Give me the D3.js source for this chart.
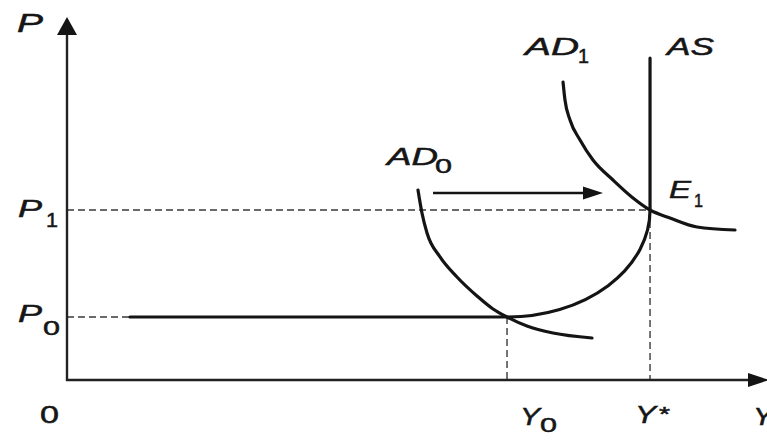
<!DOCTYPE html>
<html><head><meta charset="utf-8">
<script src="https://cdn.jsdelivr.net/npm/d3@7"></script>
<style>body{margin:0;background:#fff}svg{display:block}text{font-family:"Liberation Sans",Arial,sans-serif;fill:#161616}</style>
</head><body><svg id="c" width="767" height="440"></svg>
<script>
// Abstract units: x 0..100 (output Y), y 0..100 (price level P)
const levels = { Y0: 62.86, Ystar: 83.29, P0: 17.5, P1: 47.22 };
const asFlat = [[9.0,17.5],[62.86,17.5]];
const asTop = 89.4;
const ad0 = [[50.14,52.78],[50.71,46.39],[51.43,40.83],[53.29,34.17],[55.71,28.61],[58.57,23.33],[60.86,19.72],[62.86,17.5],[65.71,15],[69.43,13.06],[75,11.67]];
const ad1 = [[70.86,82.78],[71.14,77.78],[71.86,72.22],[73.29,66.67],[75.14,61.11],[78,55.56],[80.86,50.56],[83.29,47.22],[86.14,45],[90,42.5],[95.43,41.67]];
const shiftArrow = [[52.29,51.94],[76.57,51.94]];
const yTickLabels = [{k:"P",s:"1",v:levels.P1},{k:"P",s:"0",v:levels.P0}];
const xTickLabels = [{k:"Y",s:"0",v:levels.Y0},{k:"Y",s:"*",v:levels.Ystar}];

const svg = d3.select("#c");
const x = d3.scaleLinear().domain([0,100]).range([67,767]);
const y = d3.scaleLinear().domain([0,100]).range([380,20]);
const ink = "#141414";

// dashed guides
const dash = svg.append("g").attr("stroke","#3a3a3a").attr("stroke-width",1.4).attr("stroke-dasharray","7,4").attr("fill","none");
dash.append("line").attr("x1",x(0)).attr("x2",x(levels.Ystar)).attr("y1",y(levels.P1)).attr("y2",y(levels.P1));
dash.append("line").attr("x1",x(0)).attr("x2",x(asFlat[0][0])).attr("y1",y(levels.P0)).attr("y2",y(levels.P0));
dash.append("line").attr("x1",x(levels.Y0)).attr("x2",x(levels.Y0)).attr("y1",y(levels.P0)).attr("y2",y(0));
dash.append("line").attr("x1",x(levels.Ystar)).attr("x2",x(levels.Ystar)).attr("y1",y(levels.P1)).attr("y2",y(0));

// axes
const ax = svg.append("g").attr("stroke","#222").attr("stroke-width",2.4);
ax.append("line").attr("x1",x(0)).attr("x2",x(0)).attr("y1",y(0)+1).attr("y2",y(100)+10);
ax.append("line").attr("x1",x(0)-1).attr("x2",x(100)-12).attr("y1",y(0)).attr("y2",y(0));
svg.append("path").attr("fill",ink)
  .attr("d",`M${x(0)},${y(100)-3} L${x(0)-10},${y(100)+15} L${x(0)+10},${y(100)+15} Z`);
svg.append("path").attr("fill",ink)
  .attr("d",`M${x(100)+2},${y(0)} L${x(100)-19},${y(0)-7} L${x(100)-19},${y(0)+7} Z`);

// curves
const mono = d3.line().x(d=>x(d[0])).y(d=>y(d[1])).curve(d3.curveMonotoneX);
const cg = svg.append("g").attr("fill","none").attr("stroke",ink).attr("stroke-width",3.2).attr("stroke-linecap","round");
// AS: flat segment, quarter-elliptic bend up to (Y*,P1), then vertical
const rx = x(levels.Ystar)-x(levels.Y0), ry = y(levels.P0)-y(levels.P1);
cg.append("path").attr("d",
  `M${x(asFlat[0][0])},${y(asFlat[0][1])} L${x(asFlat[1][0])},${y(asFlat[1][1])}` +
  ` A${rx},${ry} 0 0 0 ${x(levels.Ystar)},${y(levels.P1)} L${x(levels.Ystar)},${y(asTop)}`);
cg.append("path").attr("d",mono(ad0));
cg.append("path").attr("d",mono(ad1));

// shift arrow
const ax1 = x(shiftArrow[0][0]), ax2 = x(shiftArrow[1][0]), ay = y(shiftArrow[0][1]);
svg.append("line").attr("x1",ax1).attr("x2",ax2-14).attr("y1",ay).attr("y2",ay).attr("stroke",ink).attr("stroke-width",2.4);
svg.append("path").attr("fill",ink).attr("d",`M${ax2},${ay} L${ax2-20},${ay-6.5} L${ax2-20},${ay+6.5} Z`);

// labels
function txt(px, py, s, size, len, italic){
  const t = svg.append("text").attr("x",px).attr("y",py).attr("font-size",size)
    .attr("font-style",italic?"italic":"normal").attr("stroke","#161616").attr("stroke-width",0.5).text(s);
  if(len) t.attr("textLength",len).attr("lengthAdjust","spacingAndGlyphs");
  return t;
}
const X0 = x(0), Yb = y(0);
txt(X0-50, y(100)+12, "P", 25, 26, true);
yTickLabels.forEach(d=>{
  const base = y(d.v) + (d.s==="1" ? 7 : 5);
  txt(X0-49, base, d.k, 24, 24, true);
  txt(X0-(d.s==="1"?21:24), base+(d.s==="1"?10:13), d.s, 21, d.s==="1"?12:17, false);
});
txt(X0-27, Yb+43, "0", 24, 19, false);
xTickLabels.forEach(d=>{
  if(d.s==="*"){
    txt(x(d.v)-15, Yb+43, d.k, 24, 21, true);
    txt(x(d.v)+9, Yb+41, "*", 20, 11, false);
  } else {
    txt(x(d.v)+13, Yb+45, d.k, 24, 20, true);
    txt(x(d.v)+33, Yb+52, d.s, 21, 17, false);
  }
});
txt(x(100)-14, Yb+45, "Y", 24, 20, true);
txt(x(ad1[0][0])-38, y(100)+35, "AD", 24, 54, true);
txt(x(ad1[0][0])+15, y(100)+43, "1", 21, 11, false);
txt(x(levels.Ystar)+17, y(100)+35, "AS", 24, 47, true);
txt(x(ad0[0][0])-31, y(ad0[0][1])-25, "AD", 24, 51, true);
txt(x(ad0[0][0])+17, y(ad0[0][1])-17, "0", 21, 17, false);
txt(x(levels.Ystar)+19, y(levels.P1)-12, "E", 24, 22, true);
txt(x(levels.Ystar)+44, y(levels.P1)-3, "1", 19, 9, false);
</script></body></html>
